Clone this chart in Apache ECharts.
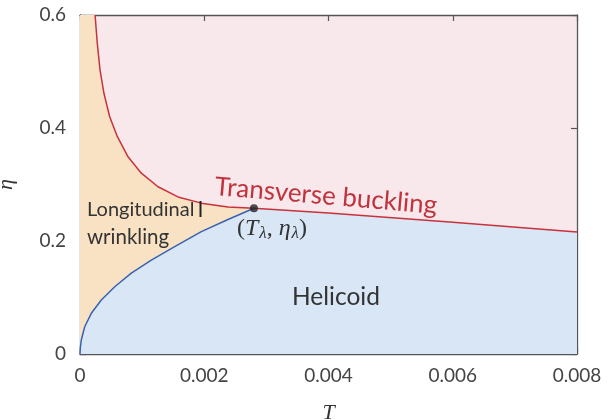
<!DOCTYPE html>
<html>
<head>
<meta charset="utf-8">
<script src="https://cdn.jsdelivr.net/npm/echarts@6/dist/echarts.min.js"></script>
<style>
  html, body { margin: 0; padding: 0; background: #fff; }
  #chart { width: 612px; height: 420px; }
</style>
</head>
<body>
<div id="chart"></div>
<script>
// boundary between longitudinal wrinkling and transverse buckling (T, eta)
const redUpper = [
  [0.000243, 0.6], [0.000278, 0.55], [0.000322, 0.503], [0.000386, 0.461],
  [0.000478, 0.42], [0.0006, 0.385], [0.000773, 0.349], [0.000987, 0.32],
  [0.001256, 0.296], [0.001577, 0.278], [0.001953, 0.267], [0.002382, 0.26],
  [0.0028, 0.258]
];
// transverse buckling / helicoid boundary
const redLower = [[0.0028, 0.258], [0.004, 0.2495], [0.006, 0.233], [0.008, 0.216]];
// wrinkling / helicoid boundary
const blueCurve = [
  [0, 0], [0.000006, 0.012], [0.0000209, 0.0248], [0.0000757, 0.0483],
  [0.000182, 0.072], [0.000343, 0.0956], [0.000559, 0.119], [0.000826, 0.143],
  [0.001148, 0.166], [0.001524, 0.19], [0.001953, 0.2165], [0.002382, 0.238],
  [0.0028, 0.258]
];
const critical = [[0.0028, 0.258]];
const xTicks = [0, 0.002, 0.004, 0.006, 0.008];
const yTicks = [0, 0.2, 0.4, 0.6];

const axisCol = '#555';
const tickFont = { fontFamily: 'Lato', fontSize: 19, color: '#444' };

function frameAxis(pos, ticks, showLabel, extra) {
  return Object.assign({
    type: 'value',
    position: pos,
    min: ticks[0],
    max: ticks[ticks.length - 1],
    interval: ticks[1] - ticks[0],
    axisLine: { show: true, onZero: false, lineStyle: { color: axisCol, width: 1.3 } },
    axisTick: { show: true, inside: true, length: 6, lineStyle: { color: axisCol, width: 1.2 } },
    splitLine: { show: false },
    axisLabel: { show: showLabel }
  }, extra || {});
}

let chart = echarts.init(document.getElementById('chart'));
chart.setOption({
  animation: false,
  grid: {
    left: 80, right: 35, top: 15, bottom: 66,
    containLabel: false, outerBoundsMode: 'none',
    show: true, backgroundColor: '#F8E8EC', borderWidth: 0
  },
  xAxis: [
    frameAxis('bottom', xTicks, true, {
      name: 'T', nameLocation: 'middle', nameGap: 48,
      nameTextStyle: { fontFamily: 'Liberation Serif', fontStyle: 'italic', fontSize: 22, color: '#333' },
      axisLabel: Object.assign({ margin: 12, formatter: v => v === 0 ? '0' : v.toFixed(3) }, tickFont)
    }),
    frameAxis('top', xTicks, false)
  ],
  yAxis: [
    frameAxis('left', yTicks, true, {
      name: 'η', nameLocation: 'middle', nameGap: 63,
      nameTextStyle: { fontFamily: 'Liberation Serif', fontStyle: 'italic', fontSize: 22, color: '#333' },
      axisLabel: Object.assign({ margin: 14, formatter: v => v === 0 ? '0' : v.toFixed(1) }, tickFont)
    }),
    frameAxis('right', yTicks, false)
  ],
  series: [
    {
      // longitudinal wrinkling region
      type: 'line',
      data: [[0, 0.6]].concat(redUpper),
      symbol: 'none',
      lineStyle: { width: 0 },
      areaStyle: { color: '#F8E2C3', opacity: 1, origin: 'start' },
      z: 1
    },
    {
      // helicoid region
      type: 'line',
      data: blueCurve.concat(redLower.slice(1)),
      symbol: 'none',
      lineStyle: { width: 0 },
      areaStyle: { color: '#D9E6F5', opacity: 1, origin: 'start' },
      z: 2
    },
    {
      type: 'line',
      data: redUpper.concat(redLower.slice(1)),
      symbol: 'none',
      lineStyle: { color: '#C8323C', width: 1.5 },
      z: 3
    },
    {
      type: 'line',
      data: blueCurve,
      symbol: 'none',
      lineStyle: { color: '#3A62B0', width: 1.5 },
      z: 3
    },
    {
      type: 'scatter',
      data: critical,
      symbolSize: 8,
      itemStyle: { color: '#222' },
      z: 4
    }
  ],
  graphic: [
    {
      type: 'text', x: 87, y: 210, z: 10,
      style: { text: 'Longitudinal', fontFamily: 'Lato', fontSize: 20, fill: '#333', verticalAlign: 'middle' }
    },
    {
      type: 'rect', z: 10,
      shape: { x: 199.5, y: 201, width: 2, height: 16 },
      style: { fill: '#222' }
    },
    {
      type: 'text', x: 87, y: 237, z: 10,
      style: { text: 'wrinkling', fontFamily: 'Lato', fontSize: 20.5, fill: '#333', verticalAlign: 'middle' }
    },
    {
      type: 'text', x: 292, y: 297, z: 10,
      style: { text: 'Helicoid', fontFamily: 'Lato', fontSize: 24.5, fill: '#333', verticalAlign: 'middle' }
    },
    {
      type: 'text', x: 326, y: 196, rotation: -0.085, z: 10,
      style: {
        text: 'Transverse buckling', fontFamily: 'Lato', fontSize: 26, fill: '#C0323C',
        align: 'center', verticalAlign: 'middle'
      }
    },
    {
      type: 'text', x: 237, y: 229, z: 10,
      style: {
        text: '({i|T}{s|λ}, {i|η}{s|λ})',
        fontFamily: 'Liberation Serif', fontSize: 24, fill: '#333', verticalAlign: 'middle',
        rich: {
          i: { fontFamily: 'Liberation Serif', fontStyle: 'italic', fontSize: 24, fill: '#333' },
          s: { fontFamily: 'Liberation Serif', fontStyle: 'italic', fontSize: 17, fill: '#333', padding: [9, 0, 0, 1] }
        }
      }
    }
  ]
});
</script>
</body>
</html>
